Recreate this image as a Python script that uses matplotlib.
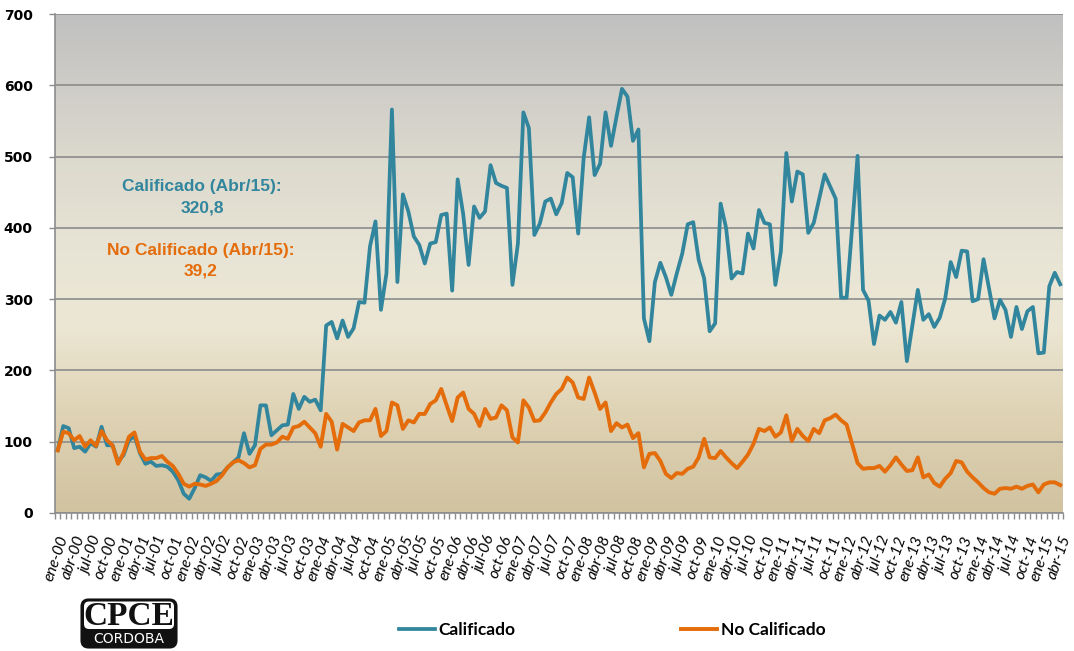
import numpy as np
import matplotlib
matplotlib.use("Agg")
import matplotlib.pyplot as plt
from matplotlib.patches import FancyBboxPatch

# ---------------- data (monthly, ene-00 .. abr-15) ----------------
calificado = [
    88, 122, 119, 91, 93, 86, 98, 93, 121, 95, 95, 72,
    81, 102, 108, 84, 69, 72, 66, 67, 65, 58, 46, 27,
    20, 35, 53, 50, 45, 54, 55, 64, 71, 78, 112, 83,
    95, 151, 151, 109, 116, 123, 124, 167, 146, 163, 156, 159,
    144, 263, 268, 245, 270, 247, 259, 296, 295, 374, 409, 285,
    336, 566, 324, 447, 423, 388, 376, 350, 378, 380, 418, 420,
    312, 468, 420, 348, 430, 414, 423, 488, 463, 459, 456, 320,
    378, 562, 540, 390, 406, 437, 441, 419, 435, 477, 471, 392,
    498, 555, 474, 490, 562, 515, 556, 595, 584, 522, 538, 273,
    241, 324, 351, 331, 306, 336, 364, 405, 408, 355, 329, 255,
    266, 434, 400, 329, 338, 336, 392, 371, 425, 407, 405, 320,
    367, 505, 437, 479, 475, 393, 407, 441, 475, 458, 441, 302,
    302, 400, 501, 313, 298, 237, 277, 271, 282, 267, 296, 213,
    263, 313, 271, 279, 261, 274, 301, 352, 331, 368, 367, 297,
    300, 356, 315, 273, 299, 285, 247, 289, 258, 283, 289, 224,
    225, 318, 337, 320.8,
]
no_calificado = [
    88, 114, 112, 102, 108, 93, 102, 94, 115, 102, 95, 69,
    84, 107, 113, 86, 75, 77, 77, 80, 72, 66, 55, 41,
    37, 41, 40, 38, 41, 45, 53, 64, 71, 74, 70, 64,
    67, 90, 96, 96, 99, 107, 104, 120, 122, 128, 120, 112,
    93, 139, 128, 89, 125, 120, 115, 127, 130, 130, 146, 108,
    115, 155, 151, 118, 130, 127, 139, 139, 153, 158, 174, 151,
    129, 162, 169, 146, 139, 122, 146, 132, 134, 151, 144, 106,
    99, 158, 148, 129, 130, 141, 155, 167, 174, 190, 183, 162,
    160, 190, 169, 146, 155, 115, 126, 120, 124, 105, 112, 64,
    83, 84, 73, 55, 49, 56, 55, 62, 65, 78, 104, 78,
    77, 87, 78, 70, 63, 72, 82, 97, 118, 115, 120, 107,
    113, 137, 101, 118, 108, 101, 118, 112, 130, 133, 138, 130,
    124, 97, 70, 62, 63, 63, 66, 58, 67, 78, 68, 59,
    60, 78, 50, 54, 42, 37, 48, 56, 73, 71, 58, 50,
    43, 35, 29, 27, 34, 35, 34, 37, 34, 38, 40, 29,
    40, 43, 43, 39.2,
]
month_names = ["ene", "abr", "jul", "oct"]
years = ["%02d" % y for y in range(0, 16)]
tick_labels = [f"{m}-{y}" for y in years for m in month_names][:62]
series_names = ["Calificado", "No Calificado"]
annot_cal = ["Calificado (Abr/15):", "320,8"]
annot_no = ["No Calificado (Abr/15):", "39,2"]

TEAL = "#31859C"
ORANGE = "#E46C0A"
GRID = "#8c8c8c"

W, H = 1074, 651
fig = plt.figure(figsize=(W / 100, H / 100), dpi=100)
fig.patch.set_facecolor("white")
ax = fig.add_axes([55 / W, 1 - 513 / H, 1008 / W, 499 / H])

n = len(calificado)
x = np.arange(n)

# background gradient of the plot area
stops = [(0.0, (209, 195, 160)), (0.2, (223, 211, 181)), (0.38, (236, 231, 212)),
         (0.5, (233, 229, 214)), (0.7, (221, 218, 206)), (1.0, (192, 192, 192))]
pos = np.linspace(0, 1, 256)
sp = [s[0] for s in stops]
grad = np.zeros((256, 1, 3))
for c in range(3):
    grad[:, 0, c] = np.interp(pos, sp, [s[1][c] / 255 for s in stops])
ax.imshow(grad, extent=(-0.5, n - 0.5, 0, 700), aspect="auto", origin="lower", zorder=0)

l1, = ax.plot(x, calificado, color=TEAL, lw=2.7, solid_joinstyle="round", zorder=3,
              label=series_names[0])
l2, = ax.plot(x, no_calificado, color=ORANGE, lw=2.8, solid_joinstyle="round", zorder=4,
              label=series_names[1])

ax.set_xlim(-0.5, n - 0.5)
ax.set_ylim(0, 700)
ax.set_yticks(range(0, 701, 100))
ax.set_axisbelow(True)
ax.yaxis.grid(True, color=GRID, lw=1.2)
for s in ["top", "right"]:
    ax.spines[s].set_visible(False)
for s in ["left", "bottom"]:
    ax.spines[s].set_color(GRID)
    ax.spines[s].set_linewidth(1.2)

ax.tick_params(axis="y", length=4, color=GRID, width=1.0, pad=12,
               labelsize=10)
for t in ax.get_yticklabels():
    t.set_fontweight("bold")
    t.set_family("DejaVu Sans")

ax.set_xticks(np.arange(0, n, 3))
ax.set_xticklabels(tick_labels, rotation=71, ha="right", va="top",
                   rotation_mode="anchor", fontsize=11.3, fontstyle="italic",
                   family=["Lato", "DejaVu Sans"])
ax.set_xticks(np.arange(-0.5, n, 1), minor=True)
ax.tick_params(axis="x", which="major", length=0, pad=15)
ax.tick_params(axis="x", which="minor", length=4, color=GRID, width=1.0)

# annotations
for xp, yp, txt, col in [(202, 187, annot_cal[0], TEAL), (202, 208, annot_cal[1], TEAL),
                         (201, 250, annot_no[0], ORANGE), (201, 271, annot_no[1], ORANGE)]:
    fig.text(xp / W, 1 - yp / H, txt, color=col, fontsize=12.5, fontweight="bold",
             family="Liberation Sans", ha="center", va="center")

# legend
leg = fig.legend(handles=[l1, l2], loc="center", bbox_to_anchor=(612 / W, 1 - 630 / H),
                 ncol=2, frameon=False, handlelength=2.1, handletextpad=0.2,
                 columnspacing=9.5, prop={"family": "Lato", "weight": "bold", "size": 12.5})

# logo
lax = fig.add_axes([80 / W, 1 - 649 / H, 98 / W, 51 / H])
lax.set_xlim(0, 98)
lax.set_ylim(0, 51)
lax.axis("off")
lax.add_patch(FancyBboxPatch((1.5, 1.5), 95, 48, boxstyle="round,pad=0,rounding_size=7",
                             fc="#111111", ec="#111111", lw=1.5))
lax.add_patch(FancyBboxPatch((4, 20), 90, 27.5, boxstyle="round,pad=0,rounding_size=5",
                             fc="white", ec="white", lw=0))
lax.text(49, 32.5, "CPCE", ha="center", va="center", fontsize=24, fontweight="bold",
         family="Liberation Serif", color="#111111")
lax.text(49, 10, "CORDOBA", ha="center", va="center", fontsize=10,
         family="DejaVu Sans", color="white")

fig.savefig("out.png", dpi=100, facecolor="white")
